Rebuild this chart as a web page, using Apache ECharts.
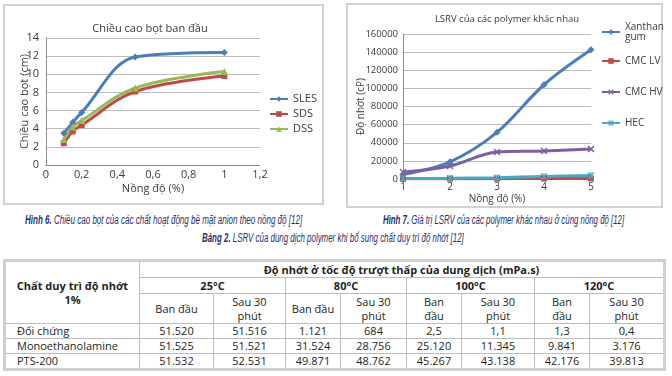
<!DOCTYPE html>
<html>
<head>
<meta charset="utf-8">
<script src="https://cdn.jsdelivr.net/npm/echarts@6/dist/echarts.min.js"></script>
<style>
  body { margin: 0; width: 672px; height: 376px; background: #fff; position: relative; overflow: hidden; font-family: "Open Sans", sans-serif; }
  .frame { position: absolute; border: 2px solid #d2d2d2; box-sizing: border-box; }
  .chart { position: absolute; width: 336px; height: 210px; top: 0; }
  .cap { position: absolute; font-family: "Liberation Sans", sans-serif; font-style: italic;
         font-size: 12px; line-height: 14px; color: #1f3168; white-space: nowrap; transform-origin: 0 0; }
  .cap b { font-weight: bold; }
  #tbl { position: absolute; left: 3px; top: 259px; width: 660px; border-collapse: collapse; table-layout: fixed;
         border: 3px solid #cfcfcf; font-size: 11px; color: #231f20; }
  #tbl td { border: 1px solid #bcbcbc; padding: 0; text-align: center; line-height: 14px; overflow: hidden; white-space: nowrap; }
  #tbl td.h { font-weight: bold; }
  #tbl td.name { text-align: left; padding-left: 11px; }
</style>
</head>
<body>
<div class="frame" style="left:3px;top:4px;width:321px;height:201px;"></div>
<div class="frame" style="left:346px;top:3px;width:317px;height:205px;"></div>
<div id="c1" class="chart" style="left:0"></div>
<div id="c2" class="chart" style="left:336px"></div>
<div class="cap" data-left="25" data-w="277" style="top:213px;"><b>Hình 6.</b> Chiều cao bọt của các chất hoạt động bề mặt anion theo nồng độ [12]</div>
<div class="cap" data-left="383" data-w="241" style="top:213px;"><b>Hình 7.</b> Giá trị LSRV của các polymer khác nhau ở cùng nồng độ [12]</div>
<div class="cap" data-left="202" data-w="262" style="top:231px;"><b>Bảng 2.</b> LSRV của dung dịch polymer khi bổ sung chất duy trì độ nhớt [12]</div>
<table id="tbl"></table>
<script>
// Hình 6 - chiều cao bọt theo nồng độ
const conc1 = [0.1, 0.15, 0.2, 0.5, 1];
const sles = [3.5, 4.7, 5.8, 11.9, 12.4];
const sds = [2.4, 3.7, 4.4, 8.1, 9.8];
const dss = [2.8, 4.2, 4.9, 8.5, 10.3];

// Hình 7 - LSRV của các polymer
const conc2 = ['1', '2', '3', '4', '5'];
const xanthan = [5000, 19000, 51500, 104000, 142500];
const cmcLV = [200, 300, 400, 500, 600];
const cmcHV = [7700, 14300, 29800, 31000, 33000];
const hec = [500, 800, 1500, 2800, 3800];

// Bảng 2
const temps = ['25°C', '80°C', '100°C', '120°C'];
const phases = [['Ban đầu', 'Sau 30<br>phút'], ['Ban đầu', 'Sau 30<br>phút'], ['Ban<br>đầu', 'Sau 30<br>phút'], ['Ban<br>đầu', 'Sau 30<br>phút']];
const agents = ['Đối chứng', 'Monoethanolamine', 'PTS-200'];
const viscDoiChung = ['51.520', '51.516', '1.121', '684', '2,5', '1,1', '1,3', '0,4'];
const viscMEA = ['51.525', '51.521', '31.524', '28.756', '25.120', '11.345', '9.841', '3.176'];
const viscPTS = ['51.532', '52.531', '49.871', '48.762', '45.267', '43.138', '42.176', '39.813'];

const FONT = '"Open Sans", sans-serif';
const TXT = '#3a3a3a';
const COLORS = { blue: '#4a7ebb', red: '#be4b48', green: '#98b954', purple: '#7d60a0', cyan: '#46aac5' };
const xPath = 'path://M0,1.5 L1.5,0 L10,8.5 L8.5,10 Z M8.5,0 L10,1.5 L1.5,10 L0,8.5 Z';
const starPath = 'path://M0,1.5 L1.5,0 L10,8.5 L8.5,10 Z M8.5,0 L10,1.5 L1.5,10 L0,8.5 Z M4.3,0 L5.7,0 L5.7,10 L4.3,10 Z';

function pairs(xs, ys) {
  return xs.map((x, i) => [x, ys[i]]);
}

function lineSeries(name, data, color, symbol, size) {
  return {
    name: name, type: 'line', data: data, smooth: 0.35, color: color,
    symbol: symbol, symbolSize: size, showSymbol: true,
    lineStyle: { width: 3, color: color }, itemStyle: { color: color },
    animation: false
  };
}

// ---- chart 1
const chart1 = echarts.init(document.getElementById('c1'));
chart1.setOption({
  textStyle: { fontFamily: FONT },
  title: {
    text: 'Chiều cao bọt ban đầu', left: 145, top: 18, textAlign: 'center',
    textStyle: { fontSize: 11, fontWeight: 'normal', color: TXT, fontFamily: FONT }
  },
  grid: { left: 46, right: 76, top: 38, bottom: 45, outerBoundsMode: 'none' },
  xAxis: {
    type: 'value', min: 0, max: 1.2, interval: 0.2,
    name: 'Nồng độ (%)', nameLocation: 'middle', nameGap: 18, nameMoveOverlap: false,
    nameTextStyle: { fontSize: 11, color: TXT, fontFamily: FONT },
    axisLine: { show: true, lineStyle: { color: '#8c8c8c' } },
    axisTick: { show: false },
    splitLine: { show: false },
    axisLabel: { fontSize: 11, color: TXT, margin: 4, fontFamily: FONT,
      formatter: v => String(+v.toFixed(1)).replace('.', ',') }
  },
  yAxis: {
    type: 'value', min: 0, max: 14, interval: 2,
    name: 'Chiều cao bọt (cm)', nameLocation: 'middle', nameGap: 16, nameMoveOverlap: false,
    nameTextStyle: { fontSize: 11, color: TXT, fontFamily: FONT },
    axisLine: { show: true, lineStyle: { color: '#8c8c8c' } },
    axisTick: { show: false },
    splitLine: { lineStyle: { color: '#bdbdbd' } },
    axisLabel: { fontSize: 11, color: TXT, margin: 7, fontFamily: FONT, formatter: v => String(v) }
  },
  legend: {
    orient: 'vertical', left: 264, top: 88, itemWidth: 18, itemHeight: 7, itemGap: 3,
    textStyle: { fontSize: 11, color: TXT, lineHeight: 12, fontFamily: FONT },
    data: ['SLES', 'SDS', 'DSS']
  },
  series: [
    lineSeries('SLES', pairs(conc1, sles), COLORS.blue, 'diamond', 7),
    lineSeries('SDS', pairs(conc1, sds), COLORS.red, 'rect', 6),
    lineSeries('DSS', pairs(conc1, dss), COLORS.green, 'triangle', 7)
  ]
});

// ---- chart 2
const chart2 = echarts.init(document.getElementById('c2'));
const legendCommon = {
  orient: 'vertical', left: 260, itemWidth: 18, itemHeight: 7,
  textStyle: { fontSize: 10, color: TXT, lineHeight: 10, fontFamily: FONT }
};
chart2.setOption({
  textStyle: { fontFamily: FONT },
  title: {
    text: 'LSRV của các polymer khác nhau', left: 166, top: 9, textAlign: 'center',
    textStyle: { fontSize: 9.5, fontWeight: 'normal', color: TXT, fontFamily: FONT }
  },
  grid: { left: 67, right: 81, top: 34, bottom: 31, outerBoundsMode: 'none' },
  xAxis: {
    type: 'category', data: conc2, boundaryGap: false,
    name: 'Nồng độ (%)', nameLocation: 'middle', nameGap: 15, nameMoveOverlap: false,
    nameTextStyle: { fontSize: 10, color: TXT, fontFamily: FONT },
    axisLine: { show: true, lineStyle: { color: '#8c8c8c' } },
    axisTick: { show: false },
    axisLabel: { fontSize: 10, color: TXT, margin: 3, fontFamily: FONT }
  },
  yAxis: {
    type: 'value', min: 0, max: 160000, interval: 20000,
    name: 'Độ nhớt (cP)', nameLocation: 'middle', nameGap: 37, nameMoveOverlap: false,
    nameTextStyle: { fontSize: 10, color: TXT, fontFamily: FONT },
    axisLine: { show: true, lineStyle: { color: '#8c8c8c' } },
    axisTick: { show: false },
    splitLine: { lineStyle: { color: '#bdbdbd' } },
    axisLabel: { fontSize: 9.5, color: TXT, margin: 5, fontFamily: FONT, formatter: v => String(v) }
  },
  legend: [
    Object.assign({ top: 17, data: ['Xanthan gum'], formatter: n => n.replace(' ', '\n') }, legendCommon),
    Object.assign({ top: 51, data: ['CMC LV'] }, legendCommon),
    Object.assign({ top: 82, data: ['CMC HV'] }, legendCommon),
    Object.assign({ top: 113, data: ['HEC'] }, legendCommon)
  ],
  series: [
    lineSeries('Xanthan gum', xanthan, COLORS.blue, 'diamond', 7),
    lineSeries('CMC LV', cmcLV, COLORS.red, 'rect', 6),
    lineSeries('CMC HV', cmcHV, COLORS.purple, xPath, 7),
    lineSeries('HEC', hec, COLORS.cyan, starPath, 7)
  ]
});

// ---- table
const colW = [135, 74, 72, 55, 66, 55, 73, 55, 75];
let html = '<colgroup>' + colW.map(w => '<col style="width:' + w + 'px">').join('') + '</colgroup>';
html += '<tr style="height:17px"><td class="h" rowspan="3">Chất duy trì độ nhớt<br>1%</td>' +
        '<td class="h" colspan="8">Độ nhớt ở tốc độ trượt thấp của dung dịch (mPa.s)</td></tr>';
html += '<tr style="height:16px">' + temps.map(t => '<td class="h" colspan="2">' + t + '</td>').join('') + '</tr>';
html += '<tr style="height:30px">' + phases.map(p => '<td>' + p[0] + '</td><td>' + p[1] + '</td>').join('') + '</tr>';
[viscDoiChung, viscMEA, viscPTS].forEach((row, i) => {
  html += '<tr style="height:15px"><td class="name">' + agents[i] + '</td>' +
          row.map(v => '<td>' + v + '</td>').join('') + '</tr>';
});
document.getElementById('tbl').innerHTML = html;

// captions are set in a condensed face in the source; squeeze to the same width
document.querySelectorAll('.cap').forEach(el => {
  const s = (+el.dataset.w) / el.offsetWidth;
  el.style.left = el.dataset.left + 'px';
  el.style.transform = 'scaleX(' + s.toFixed(3) + ')';
});
</script>
</body>
</html>
